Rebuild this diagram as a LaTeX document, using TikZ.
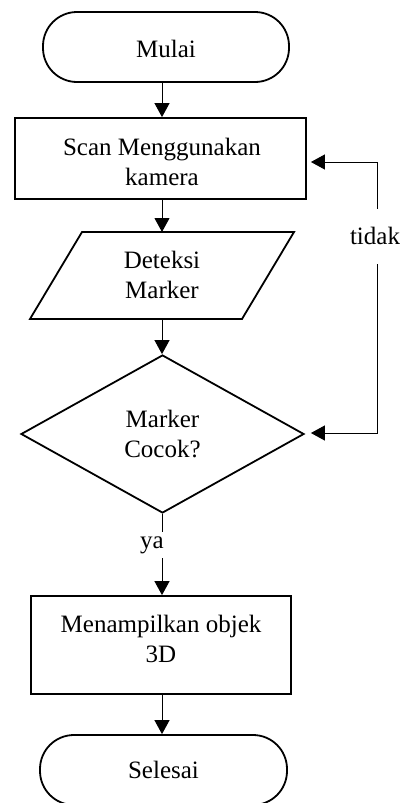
\documentclass[tikz,border=0pt]{standalone}
\usepackage{fontspec}
\setmainfont{Liberation Serif}
\usetikzlibrary{shapes.geometric,arrows.meta}
\begin{document}
\begin{tikzpicture}[x=1pt,y=1pt,
  every node/.style={font=\fontsize{25}{30}\selectfont},
  shapebox/.style={draw,line width=1.8pt,align=center,inner sep=0pt},
  term/.style={shapebox,rounded corners=34pt},
  arr/.style={line width=1pt,-{Triangle[width=15pt,length=14pt]}},
  barr/.style={line width=1pt,{Triangle[width=15pt,length=14pt]}-{Triangle[width=15pt,length=14pt]}},
  lbl/.style={fill=white,inner xsep=1pt,inner ysep=0pt}]
\useasboundingbox (0,0) rectangle (403,-803);
\coordinate (ax) at (162,0);
\node[term,minimum width=246pt,minimum height=70pt] (mulai) at (166,-47) {};
\node (mulaitxt) at (166,-49) {Mulai};
\node[shapebox,minimum width=291pt,minimum height=81pt] (scan) at (160.5,-158.5) {};
\node[align=center] (scantxt) at (162,-162) {Scan Menggunakan\\kamera};
\coordinate (p1) at (82,-232); \coordinate (p2) at (294,-232);
\coordinate (p3) at (242,-319); \coordinate (p4) at (30,-319);
\draw[line width=1.8pt,line join=miter] (p1) -- (p2) -- (p3) -- (p4) -- cycle;
\node[align=center] (det) at (162,-275) {Deteksi\\Marker};
\coordinate (dettop) at (162,-232); \coordinate (detbot) at (162,-319);
\node[shapebox,diamond,minimum width=283pt,minimum height=158pt] (dia) at (162.5,-434) {Marker\\Cocok?};
\node[shapebox,minimum width=260pt,minimum height=98pt] (tampil) at (161,-645) {};
\node[align=center] (tampiltxt) at (161,-639) {Menampilkan objek\\3D};
\node[term,minimum width=247pt,minimum height=70pt] (selesai) at (163.5,-770) {Selesai};
\coordinate (c1) at (377,-162); \coordinate (c2) at (377,-433);
\draw[arr] (ax |- mulai.south) -- (ax |- scan.north);
\draw[arr] (ax |- scan.south) -- (dettop);
\draw[arr] (detbot) -- (ax |- dia.north);
\draw[arr] (ax |- dia.south) -- (ax |- tampil.north);
\draw[arr] (ax |- tampil.south) -- (ax |- selesai.north);
\draw[barr,shorten <=6pt,shorten >=4pt] (c2 -| dia.east) -- (c2) -- (c1) -- (c1 -| scan.east);
\node[lbl,minimum height=55pt] (tidak) at (375,-236) {tidak};
\node[lbl,minimum height=26pt] (ya) at (152,-545) {ya};
\end{tikzpicture}
\end{document}
